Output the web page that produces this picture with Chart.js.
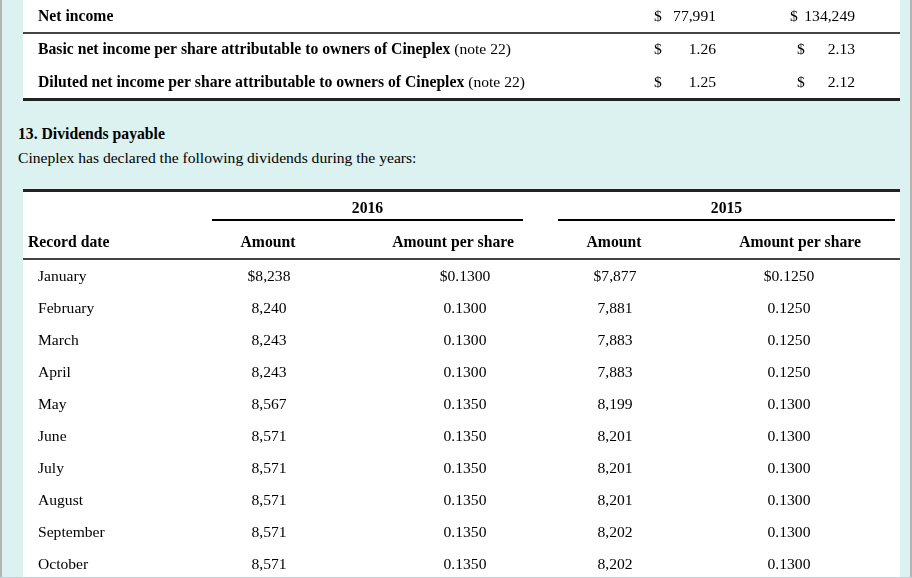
<!DOCTYPE html>
<html>
<head>
<meta charset="utf-8">
<script src="https://cdn.jsdelivr.net/npm/chart.js@4.4.1/dist/chart.umd.min.js"></script>
<style>
  html, body { margin: 0; padding: 0; }
  body {
    width: 912px; height: 578px; overflow: hidden; position: relative;
    background: #dcf2f1; color: #000;
    font-family: "Liberation Serif", "Times New Roman", serif; font-size: 15.6px;
  }
  .edge-l { position: absolute; left: 0; top: 0; width: 2px; height: 578px; background: #b4b4b4; }
  .edge-r { position: absolute; right: 0; top: 0; width: 2px; height: 578px; background: #b4b4b4; }
  .edge-b { position: absolute; left: 0; top: 577px; width: 912px; height: 1px; background: #c6d0dc; z-index: 5; }
  .panel { position: absolute; left: 23px; width: 877px; background: #fff; overflow: hidden; }
  #incomePanel { top: 0; height: 98px; border-bottom: 3px solid #222; }
  #dividendPanel { top: 189px; height: 386px; border-top: 3px solid #222; }
  canvas { display: block; }
  .heading { position: absolute; left: 18px; top: 125px; margin: 0; font-weight: bold; font-size: 15.7px; }
  .intro { position: absolute; left: 18px; top: 149px; margin: 0; }
</style>
</head>
<body>
<div class="edge-l"></div>
<div class="edge-r"></div>
<div class="edge-b"></div>

<div class="panel" id="incomePanel">
  <canvas id="incomeChart" width="877" height="98" style="width:877px;height:98px"></canvas>
</div>

<p class="heading">13. Dividends payable</p>
<p class="intro">Cineplex has declared the following dividends during the years:</p>

<div class="panel" id="dividendPanel">
  <canvas id="dividendChart" width="877" height="390" style="width:877px;height:390px"></canvas>
</div>

<script>
// earnings per share table
const incomeRows = [
  'Net income',
  'Basic net income per share attributable to owners of Cineplex',
  'Diluted net income per share attributable to owners of Cineplex'
]
const incomeNotes = ['', '(note 22)', '(note 22)']
const income2016 = [77991, 1.26, 1.25]
const income2015 = [134249, 2.13, 2.12]

// dividends table
const years = ['2016', '2015']
const columnHeads = ['Record date', 'Amount', 'Amount per share', 'Amount', 'Amount per share']
const months = ['January', 'February', 'March', 'April', 'May', 'June', 'July', 'August', 'September', 'October']
const amount2016 = [8238, 8240, 8243, 8243, 8567, 8571, 8571, 8571, 8571, 8571]
const perShare2016 = [0.1300, 0.1300, 0.1300, 0.1300, 0.1350, 0.1350, 0.1350, 0.1350, 0.1350, 0.1350]
const amount2015 = [7877, 7881, 7883, 7883, 8199, 8201, 8201, 8201, 8202, 8202]
const perShare2015 = [0.1250, 0.1250, 0.1250, 0.1250, 0.1300, 0.1300, 0.1300, 0.1300, 0.1300, 0.1300]

const FONT = '15.6px "Liberation Serif", "Times New Roman", serif'
const BOLD = 'bold 15.7px "Liberation Serif", "Times New Roman", serif'

const money = v => v.toLocaleString('en-US')
const first$ = (s, i) => (i === 0 ? '$' : '') + s

// one invisible point per cell, the plugin writes the text where the scales put it
function column(rows, values, x, align, fmt, extra) {
  return Object.assign({
    data: values.map((v, i) => ({ x: Array.isArray(x) ? x[i] : x, y: rows[i] })),
    values: values,
    align: align,
    fmt: fmt,
    pointRadius: 0,
    pointHoverRadius: 0
  }, extra || {})
}

const cellText = {
  id: 'cellText',
  afterDatasetsDraw(chart) {
    const ctx = chart.ctx
    ctx.save()
    ctx.textBaseline = 'middle'
    ctx.fillStyle = '#000'
    chart.data.datasets.forEach((ds, d) => {
      chart.getDatasetMeta(d).data.forEach((pt, i) => {
        ctx.font = ds.bold ? BOLD : FONT
        ctx.textAlign = ds.align
        const text = ds.fmt(ds.values[i], i)
        ctx.fillText(text, pt.x, pt.y + 1)
        if (ds.notes && ds.notes[i]) {
          const w = ctx.measureText(text + ' ').width
          ctx.font = FONT
          ctx.textAlign = 'left'
          ctx.fillText(ds.notes[i], pt.x + w, pt.y + 1)
        }
      })
    })
    ctx.restore()
  }
}

const incomeRules = {
  id: 'incomeRules',
  beforeDatasetsDraw(chart) {
    const ctx = chart.ctx
    const y = chart.scales.y
    const between = (y.getPixelForValue(0) + y.getPixelForValue(1)) / 2
    ctx.save()
    ctx.fillStyle = '#444'
    ctx.fillRect(0, Math.round(between) - 1, chart.width, 2)
    ctx.restore()
  }
}

const dividendHeads = {
  id: 'dividendHeads',
  beforeDatasetsDraw(chart) {
    const ctx = chart.ctx
    const x = chart.scales.x
    const top = chart.chartArea.top
    ctx.save()
    ctx.textBaseline = 'middle'
    ctx.fillStyle = '#000'
    ctx.font = BOLD

    // year groups
    const groups = [[189, 500], [535, 872]]
    groups.forEach((g, k) => {
      const a = x.getPixelForValue(g[0]), b = x.getPixelForValue(g[1])
      ctx.textAlign = 'center'
      ctx.fillText(years[k], (a + b) / 2, top - 51)
      ctx.fillRect(a, top - 41, b - a, 2)
    })

    // column heads
    const heads = [[5, 'left'], [245, 'center'], [430, 'center'], [591, 'center'], [777, 'center']]
    heads.forEach((h, k) => {
      ctx.textAlign = h[1]
      ctx.fillText(columnHeads[k], x.getPixelForValue(h[0]), top - 17)
    })

    ctx.fillStyle = '#444'
    ctx.fillRect(0, top - 2, chart.width, 2)
    ctx.restore()
  }
}

const baseOptions = (rows, padding) => ({
  responsive: false,
  devicePixelRatio: 1,
  animation: false,
  events: [],
  layout: { padding: padding },
  plugins: { legend: { display: false }, tooltip: { enabled: false } },
  scales: {
    x: { type: 'linear', min: 0, max: 877, display: false },
    y: { type: 'category', labels: rows, offset: true, display: false }
  }
})

new Chart(document.getElementById('incomeChart'), {
  type: 'scatter',
  data: {
    datasets: [
      column(incomeRows, incomeRows, 15, 'left', v => v, { bold: true, notes: incomeNotes }),
      column(incomeRows, income2016, 631, 'left', () => '$'),
      column(incomeRows, income2016, 693, 'right', (v, i) => i === 0 ? money(v) : v.toFixed(2)),
      column(incomeRows, income2015, [767, 774, 774], 'left', () => '$'),
      column(incomeRows, income2015, 832, 'right', (v, i) => i === 0 ? money(v) : v.toFixed(2))
    ]
  },
  options: baseOptions(incomeRows, 0),
  plugins: [incomeRules, cellText]
})

new Chart(document.getElementById('dividendChart'), {
  type: 'scatter',
  data: {
    datasets: [
      column(months, months, 15, 'left', v => v),
      column(months, amount2016, 246, 'center', (v, i) => first$(money(v), i)),
      column(months, perShare2016, 442, 'center', (v, i) => first$(v.toFixed(4), i)),
      column(months, amount2015, 592, 'center', (v, i) => first$(money(v), i)),
      column(months, perShare2015, 766, 'center', (v, i) => first$(v.toFixed(4), i))
    ]
  },
  options: baseOptions(months, { top: 68, bottom: 2, left: 0, right: 0 }),
  plugins: [dividendHeads, cellText]
})
</script>
</body>
</html>
